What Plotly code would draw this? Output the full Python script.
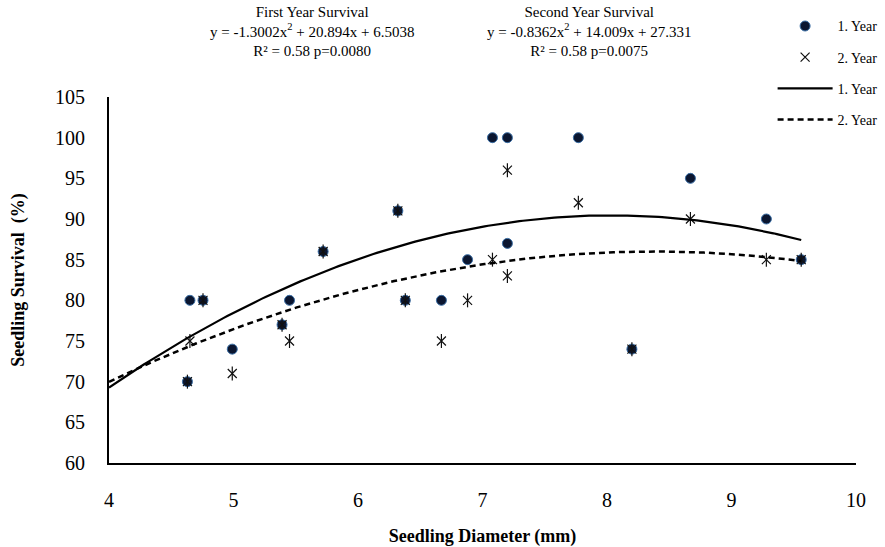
import numpy as np
import plotly.graph_objects as go

# ---- data ----
diameter = [4.63, 4.65, 4.755, 4.99, 5.39, 5.45, 5.72, 6.32, 6.38, 6.67,
            6.88, 7.08, 7.20, 7.20, 7.77, 8.20, 8.67, 9.28, 9.56]
survival_year1 = [70, 80, 80, 74, 77, 80, 86, 91, 80, 80,
                  85, 100, 100, 87, 100, 74, 95, 90, 85]
survival_year2 = [70, 75, 80, 71, 77, 75, 86, 91, 80, 75,
                  80, 85, 96, 83, 92, 74, 90, 85, 85]

# quadratic trend coefficients printed on the chart (a, b, c for a*x^2 + b*x + c)
coef_year1 = [-1.3002, 20.894, 6.5038]
coef_year2 = [-0.8362, 14.009, 27.331]

x_ticks = [4, 5, 6, 7, 8, 9, 10]
y_ticks = [60, 65, 70, 75, 80, 85, 90, 95, 100, 105]

SERIF = "Liberation Serif, Times New Roman, serif"

xt = np.linspace(4, max(diameter), 200)
fit1 = np.polyval(coef_year1, xt)
fit2 = np.polyval(coef_year2, xt)

fig = go.Figure()

fig.add_trace(go.Scatter(
    x=diameter, y=survival_year1, mode="markers", name="1. Year",
    legendgroup="a",
    marker=dict(symbol="circle", size=10, color="#0b1630",
                line=dict(color="#3a6ea5", width=1))))

fig.add_trace(go.Scatter(
    x=diameter, y=survival_year2, mode="markers", name="2. Year",
    legendgroup="b",
    marker=dict(symbol="x-thin-open", size=9, color="#111111",
                line=dict(color="#111111", width=1.2))))
fig.add_trace(go.Scatter(
    x=diameter, y=survival_year2, mode="markers", name="2. Year",
    legendgroup="b", showlegend=False,
    marker=dict(symbol="line-ns-open", size=10, color="#111111",
                line=dict(color="#111111", width=1.2))))

fig.add_trace(go.Scatter(
    x=xt, y=fit1, mode="lines", name="1. Year", legendgroup="c",
    line=dict(color="black", width=2.2)))
fig.add_trace(go.Scatter(
    x=xt, y=fit2, mode="lines", name="2. Year", legendgroup="d",
    line=dict(color="black", width=2.5, dash="6px,4px")))

ann_font = dict(family=SERIF, size=15, color="black")
fig.add_annotation(xref="paper", yref="paper", x=0.272, y=1.18,
                   text="First Year Survival<br>y = -1.3002x<sup>2</sup> + 20.894x + 6.5038<br>R² = 0.58 p=0.0080",
                   showarrow=False, font=ann_font, align="center",
                   xanchor="center", yanchor="middle")
fig.add_annotation(xref="paper", yref="paper", x=0.642, y=1.18,
                   text="Second Year Survival<br>y = -0.8362x<sup>2</sup> + 14.009x + 27.331<br>R² = 0.58 p=0.0075",
                   showarrow=False, font=ann_font, align="center",
                   xanchor="center", yanchor="middle")

fig.update_layout(
    width=885, height=547,
    margin=dict(l=109, r=29, t=97, b=84, autoexpand=False),
    paper_bgcolor="white", plot_bgcolor="white",
    font=dict(family=SERIF, color="black"),
    showlegend=True,
    legend=dict(xref="container", yref="container", x=0.873, y=0.981,
                xanchor="left", yanchor="top",
                font=dict(family=SERIF, size=14, color="black"),
                bgcolor="rgba(0,0,0,0)", tracegroupgap=10,
                traceorder="grouped", itemwidth=55),
    xaxis=dict(range=[4, 10], tickvals=x_ticks, showgrid=False, zeroline=False,
               showline=True, linecolor="black", linewidth=2,
               ticks="", ticklabelstandoff=18,
               tickfont=dict(family=SERIF, size=20, color="black"),
               title=dict(text="<b>Seedling Diameter (mm)</b>", standoff=20,
                          font=dict(family=SERIF, size=18, color="black"))),
    yaxis=dict(range=[60, 105], tickvals=y_ticks, showgrid=False, zeroline=False,
               showline=True, linecolor="black", linewidth=2,
               ticks="", ticklabelstandoff=18,
               tickfont=dict(family=SERIF, size=20, color="black"),
               title=dict(text="<b>Seedling Survival  (%)</b>", standoff=26,
                          font=dict(family=SERIF, size=18, color="black"))),
)

fig.write_html("out.html", config={"displayModeBar": False},
               post_script="document.body.style.margin = '0px';")
